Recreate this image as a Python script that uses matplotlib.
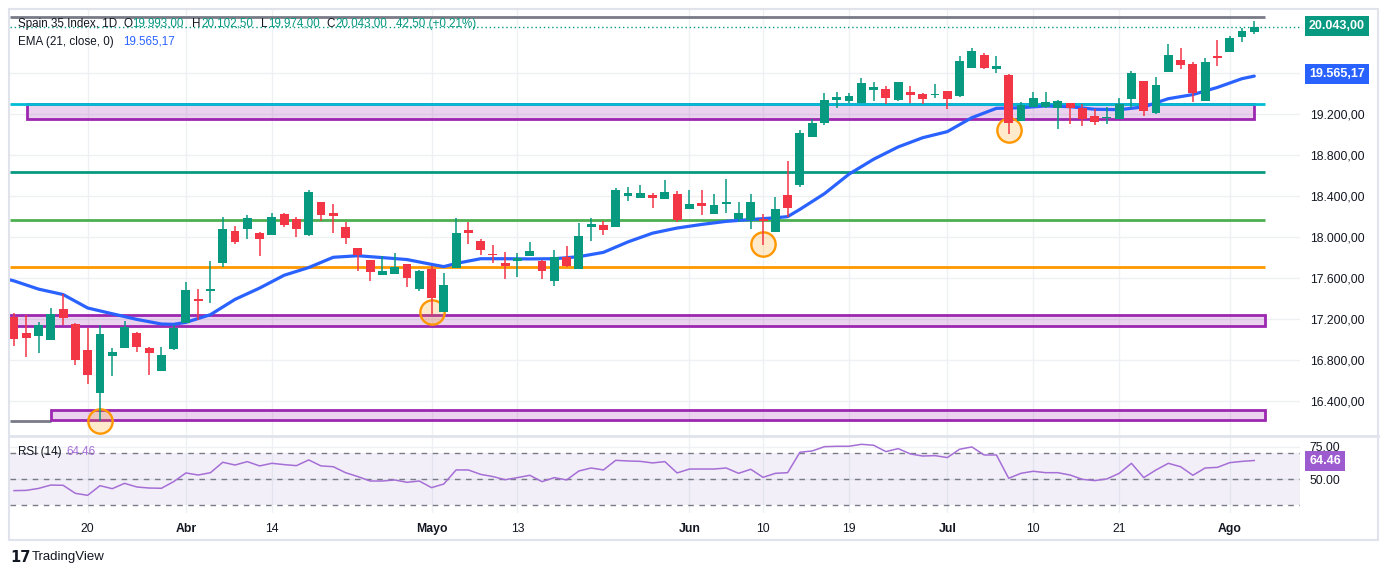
import matplotlib
matplotlib.use("Agg")
import matplotlib.pyplot as plt
from matplotlib.patches import Rectangle
from matplotlib.lines import Line2D

plt.rcParams['font.family'] = ['Liberation Sans', 'DejaVu Sans']

# daily candles, Spain 35 Index (index 0 = first visible bar)
opens = [17221, 17065, 17029, 16990, 17300, 17153, 16899, 16482, 16834, 16912,
         17065, 16918, 16697, 16902, 17156, 17398, 17469, 17743, 18059, 18079,
         18036, 18020, 18225, 18170, 18020, 18335, 18231, 18095, 17890, 17773,
         17631, 17640, 17735, 17494, 17686, 17270, 17692, 18066, 17962, 17829,
         17744, 17767, 17812, 17767, 17572, 17799, 17689, 18098, 18111, 18098,
         18400, 18381, 18410, 18371, 18416, 18274, 18329, 18218, 18322, 18170,
         18160, 18170, 18049, 18407, 18504, 18975, 19111, 19335, 19322, 19303,
         19433, 19439, 19335, 19410, 19390, 19381, 19420, 19371, 19647, 19770,
         19637, 19576, 19131, 19267, 19264, 19251, 19303, 19251, 19176, 19157,
         19150, 19345, 19517, 19205, 19608, 19722, 19683, 19326, 19761, 19803,
         19946, 19993]
highs = [17261, 17235, 17173, 17310, 17443, 17160, 17114, 17140, 16918, 17182,
         17075, 16928, 16928, 17140, 17564, 17495, 17763, 18196, 18102, 18209,
         18046, 18231, 18235, 18192, 18455, 18335, 18319, 18144, 17890, 17773,
         17809, 17842, 17735, 17676, 17718, 17647, 18179, 18144, 17978, 17920,
         17851, 17842, 17949, 17773, 17871, 17910, 18131, 18183, 18153, 18475,
         18485, 18504, 18426, 18553, 18446, 18455, 18455, 18416, 18563, 18339,
         18416, 18222, 18387, 18738, 19040, 19144, 19403, 19413, 19403, 19550,
         19507, 19468, 19507, 19468, 19403, 19488, 19420, 19761, 19839, 19787,
         19761, 19582, 19309, 19410, 19410, 19329, 19303, 19290, 19248, 19267,
         19351, 19615, 19517, 19559, 19878, 19839, 19702, 19741, 19920, 19956,
         20033, 20102.5]
lows = [16931, 16824, 16863, 16990, 17137, 16746, 16570, 16208, 16648, 16912,
        16873, 16658, 16697, 16892, 17156, 17186, 17352, 17707, 17932, 17981,
        17816, 18020, 18092, 18001, 18011, 18157, 18040, 17933, 17670, 17572,
        17631, 17640, 17510, 17475, 17238, 17270, 17692, 17933, 17825, 17747,
        17592, 17611, 17812, 17592, 17520, 17705, 17689, 17962, 18020, 18098,
        18351, 18381, 18283, 18371, 18147, 18274, 18215, 18218, 18235, 18147,
        18075, 17923, 18049, 18189, 18488, 18975, 19092, 19257, 19300, 19303,
        19322, 19293, 19319, 19303, 19293, 19348, 19248, 19364, 19647, 19634,
        19598, 19001, 19131, 19267, 19251, 19053, 19101, 19082, 19089, 19101,
        19150, 19251, 19179, 19196, 19608, 19634, 19316, 19326, 19667, 19803,
        19897, 19974]
closes = [17000, 17010, 17143, 17251, 17205, 16804, 16658, 17055, 16879, 17124,
          16922, 16863, 16850, 17114, 17486, 17375, 17495, 18072, 17945, 18179,
          17981, 18192, 18118, 18079, 18436, 18215, 18205, 17991, 17825, 17660,
          17666, 17702, 17601, 17666, 17407, 17530, 18036, 18040, 17874, 17819,
          17715, 17793, 17864, 17670, 17799, 17715, 18007, 18121, 18066, 18455,
          18426, 18426, 18381, 18436, 18166, 18319, 18303, 18309, 18339, 18231,
          18339, 18157, 18270, 18283, 19011, 19108, 19332, 19361, 19371, 19498,
          19455, 19355, 19507, 19384, 19345, 19390, 19345, 19712, 19809, 19647,
          19663, 19111, 19283, 19351, 19313, 19322, 19254, 19150, 19121, 19170,
          19290, 19595, 19225, 19478, 19770, 19676, 19403, 19702, 19741, 19936,
          20000.5, 20043]

# EMA(21) at selected bars
ema_idx = [-1, 0, 2, 4, 6, 8, 10, 12, 13, 14, 16, 18, 20, 22, 24, 26, 28, 30, 32,
           34, 35, 36, 38, 40, 42, 44, 46, 48, 50, 52, 54, 56, 58, 60, 62, 63, 64,
           66, 68, 70, 72, 74, 76, 78, 80, 82, 84, 86, 88, 90, 92, 94, 96, 98, 100, 101]
ema_val = [17600, 17570, 17490, 17437, 17306, 17250, 17195, 17150, 17147, 17166,
           17241, 17390, 17500, 17625, 17700, 17800, 17815, 17797, 17778, 17731,
           17709, 17740, 17786, 17786, 17784, 17786, 17806, 17848, 17950, 18035,
           18085, 18120, 18150, 18168, 18185, 18196, 18267, 18420, 18610, 18755,
           18875, 18965, 19024, 19160, 19251, 19257, 19274, 19267, 19242, 19238,
           19265, 19345, 19385, 19455, 19540, 19565.17]

# RSI(14), one value per bar
rsi = [41.3, 41.5, 43.0, 45.6, 45.4, 39.2, 37.7, 45.1, 42.8, 46.9,
       44.1, 43.3, 43.1, 48.2, 54.9, 53.3, 55.1, 63.1, 61.0, 63.6,
       60.3, 62.3, 61.3, 60.5, 64.9, 60.3, 59.7, 55.1, 52.1, 48.7,
       48.7, 49.5, 47.7, 48.7, 43.6, 46.4, 57.2, 57.2, 53.8, 52.1,
       49.7, 51.3, 53.1, 48.2, 51.3, 49.5, 56.4, 58.7, 57.2, 64.6,
       64.1, 63.8, 62.6, 63.6, 54.9, 57.9, 57.9, 57.9, 58.7, 54.6,
       57.7, 51.5, 54.6, 55.1, 70.8, 71.8, 75.1, 75.4, 75.4, 76.9,
       76.2, 71.3, 73.6, 69.5, 67.9, 68.2, 66.7, 73.1, 74.9, 68.7,
       68.7, 50.8, 54.6, 56.2, 55.1, 55.1, 53.3, 50.0, 49.0, 50.3,
       54.6, 62.3, 51.3, 57.2, 62.3, 59.7, 53.1, 58.7, 59.2, 62.8,
       63.8, 64.46]

tick_idx = [6, 14, 21, 34, 41, 55, 61, 68, 76, 83, 90, 99]
tick_lbl = ['20', 'Abr', '14', 'Mayo', '13', 'Jun', '10', '19', 'Jul', '10', '21', 'Ago']
month_lbl = ['Abr', 'Mayo', 'Jun', 'Jul', 'Ago']

# drawn levels and zones
levels = [18634, 18163, 17705, 19295]
level_colors = ['#089981', '#4caf50', '#ff9800', '#00bcd4']
zone_lo = [19147, 17134, 16215]
zone_hi = [19296, 17238, 16315]
zone_start = [1.06, -0.6, 3.0]
zone_end = [100.95, 101.9, 101.9]
top_grey = 20141
low_grey = 16208
circ_idx = [7, 34, 61, 81]
circ_val = [16205, 17267, 17930, 19040]

price_ticks = [16400, 16800, 17200, 17600, 18000, 18400, 18800, 19200, 19600]

UP = '#089981'
DOWN = '#f23645'
TXT = '#131722'
GRID = '#eef0f4'
EMA_C = '#2962ff'
RSI_C = '#a56fd6'

W, H = 1388, 575


def fx(x):
    return x / W


def fy(y):
    return 1 - y / H


def es(v):
    s = f"{v:,.2f}"
    return s.replace(',', 'X').replace('.', ',').replace('X', '.')


fig = plt.figure(figsize=(W / 100, H / 100), dpi=100)
ax = fig.add_axes([fx(10), fy(436), fx(1300) - fx(10), fy(10) - fy(436)])
ax2 = fig.add_axes([fx(10), fy(513), fx(1300) - fx(10), fy(436) - fy(513)])

x_left = (10 - 14) / 12.28
x_right = (1300 - 14) / 12.28

# --- main pane ---
ax.set_xlim(x_left, x_right)
ax.set_ylim(16059, 20209)
for s in ax.spines.values():
    s.set_visible(False)
ax.set_xticks(tick_idx)
ax.set_xticklabels([])
ax.set_yticks(price_ticks)
ax.set_yticklabels([es(v) for v in price_ticks])
ax.yaxis.tick_right()
ax.tick_params(axis='both', length=0)
ax.tick_params(axis='y', pad=7, labelsize=8.8, labelcolor=TXT)
ax.grid(True, color=GRID, lw=1, zorder=0)
ax.set_axisbelow(True)

ax.hlines(top_grey, x_left, 101.9, color='#787b86', lw=2, zorder=1)
ax.hlines(low_grey, x_left, zone_start[2], color='#787b86', lw=2, zorder=1)
ax.axhline(closes[-1], color=UP, ls=(0, (1, 2)), lw=1, zorder=1)

for lo, hi, a, b in zip(zone_lo, zone_hi, zone_start, zone_end):
    ax.add_patch(Rectangle((a, lo), b - a, hi - lo, fc=(0.612, 0.153, 0.69, 0.2),
                           ec='#9c27b0', lw=2, zorder=2))
for lv, c in zip(levels, level_colors):
    ax.hlines(lv, x_left, 101.9, color=c, lw=2, zorder=2)

ax.plot(ema_idx, ema_val, color=EMA_C, lw=2.3, zorder=3, solid_capstyle='round')

ax.plot(circ_idx, circ_val, 'o', ms=17.5, mfc=(1, 0.596, 0, 0.2), mec='#ff9800',
        mew=1.7, zorder=3.5)

for i, (o, h, l, c) in enumerate(zip(opens, highs, lows, closes)):
    col = UP if c >= o else DOWN
    ax.vlines(i, l, h, color=col, lw=1.1, zorder=4)
    bot = min(o, c)
    ht = max(abs(c - o), 9)
    ax.bar(i, ht, bottom=bot, width=0.72, color=col, lw=0, zorder=4)

# --- RSI pane ---
ax2.set_xlim(x_left, x_right)
ax2.set_ylim(24.1, 83.3)
for s in ax2.spines.values():
    s.set_visible(False)
ax2.axhspan(30, 70, color='#7e57c2', alpha=0.09, lw=0, zorder=1)
for lv in (70, 50, 30):
    ax2.axhline(lv, color='#787b86', ls=(0, (4, 4)), lw=1, zorder=2)
ax2.plot(range(len(rsi)), rsi, color=RSI_C, lw=1.1, zorder=3)
ax2.set_yticks([50, 75])
ax2.set_yticklabels(['50.00', '75.00'])
ax2.yaxis.tick_right()
ax2.set_xticks(tick_idx)
ax2.set_xticklabels(tick_lbl)
for t in ax2.get_xticklabels():
    if t.get_text() in month_lbl:
        t.set_fontweight('bold')
ax2.tick_params(axis='both', length=0, labelsize=8.8, labelcolor=TXT)
ax2.tick_params(axis='y', pad=7)
ax2.tick_params(axis='x', pad=7)
ax2.grid(True, color=GRID, lw=1, zorder=0)
ax2.set_axisbelow(True)

# --- frame ---
fig.add_artist(Rectangle((fx(9), fy(540)), fx(1378) - fx(9), fy(9) - fy(540),
                         transform=fig.transFigure, fc='none', ec='#e0e3eb', lw=1.5))
fig.add_artist(Line2D([fx(9), fx(1378)], [fy(436), fy(436)], transform=fig.transFigure,
                      color='#e0e3eb', lw=2))

# --- legend texts ---
fs = 8.4
chg = closes[-1] - closes[-2]
pct = chg / closes[-2] * 100
head = [(18, "Spain 35 Index, 1D", TXT), (124, "O", TXT), (132, es(opens[-1]), UP),
        (192, "H", TXT), (201, es(highs[-1]), UP), (261, "L", TXT),
        (268, es(lows[-1]), UP), (326, "C", TXT), (335, es(closes[-1]), UP),
        (396, f"{es(chg)} (+{pct:.2f}%)", UP)]
for x, s, c in head:
    fig.text(fx(x), fy(24), s, color=c, fontsize=fs, va='center', ha='left')
fig.text(fx(18), fy(42), "EMA (21, close, 0)", color=TXT, fontsize=fs, va='center')
fig.text(fx(123), fy(42), es(ema_val[-1]), color=EMA_C, fontsize=fs, va='center')
fig.text(fx(18), fy(452), "RSI (14)", color=TXT, fontsize=fs, va='center')
fig.text(fx(66), fy(452), f"{rsi[-1]:.2f}", color=RSI_C, fontsize=fs, va='center')

# --- price scale labels ---
fig.text(fx(1309), fy(26), es(closes[-1]), color='white', fontsize=9, va='center',
         fontweight='bold', bbox=dict(boxstyle='square,pad=0.35', fc=UP, ec='none'))
fig.text(fx(1309), fy(74), es(ema_val[-1]), color='white', fontsize=9, va='center',
         fontweight='bold', bbox=dict(boxstyle='square,pad=0.35', fc=EMA_C, ec='none'))
fig.text(fx(1309), fy(461), f"{rsi[-1]:.2f}", color='white', fontsize=9, va='center',
         fontweight='bold', bbox=dict(boxstyle='square,pad=0.35', fc='#9c5bcf', ec='none'))

# --- footer ---
fig.text(fx(10), fy(557), "17", color=TXT, fontsize=10.5, fontweight='bold',
         va='center', family='DejaVu Sans')
fig.text(fx(32), fy(557), "TradingView", color=TXT, fontsize=9.5, va='center')

fig.savefig('out.png', dpi=100, facecolor='white')
